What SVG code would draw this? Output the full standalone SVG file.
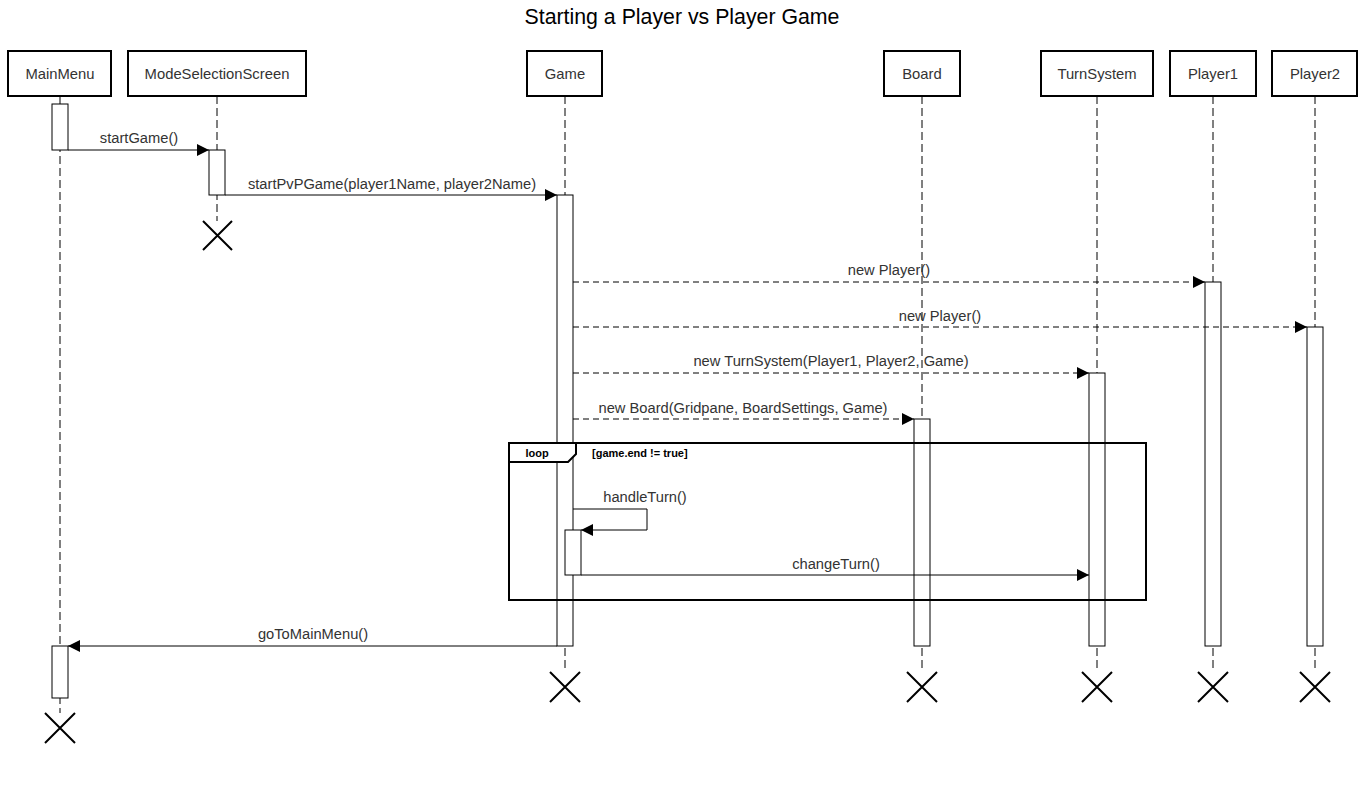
<svg xmlns="http://www.w3.org/2000/svg" width="1365" height="785" viewBox="0 0 1365 785">
<defs>
<style>
text{font-family:"Liberation Sans",Arial,sans-serif;fill:#000}
.hdr{fill:#fff;stroke:#000;stroke-width:2}
.ht{font-size:14.8px;text-anchor:middle;fill:#333}
.life{stroke:#000;stroke-width:1;stroke-dasharray:8 4;fill:none}
.act{fill:#fff;stroke:#000;stroke-width:1}
.x{stroke:#000;stroke-width:2;fill:none}
.msg{stroke:#000;stroke-width:1;fill:none}
.dash{stroke-dasharray:6 4}
.lbl{font-size:14.7px;text-anchor:middle;fill:#333}
</style>
<marker id="ah" viewBox="0 0 12 12" refX="12" refY="6" markerWidth="12" markerHeight="12" markerUnits="userSpaceOnUse" orient="auto">
<path d="M0,0 L12,6 L0,12 Z" fill="#000"/>
</marker>
</defs>
<rect width="1365" height="785" fill="#fff"/>
<text x="682" y="24" font-size="21.3" text-anchor="middle" fill="#111">Starting a Player vs Player Game</text>

<g id="MainMenu">
<rect class="hdr" x="8" y="51" width="103" height="45"/>
<text class="ht" x="60" y="79">MainMenu</text>
<line class="life" x1="60" y1="96" x2="60" y2="713"/>
<rect class="act" x="52" y="104" width="16" height="46"/>
<rect class="act" x="52" y="646" width="16" height="52"/>
<path class="x" d="M45,713 L75,743 M75,713 L45,743"/>
</g>
<g id="ModeSelectionScreen">
<rect class="hdr" x="128" y="51" width="178" height="45"/>
<text class="ht" x="217" y="79">ModeSelectionScreen</text>
<line class="life" x1="217" y1="96" x2="217" y2="221"/>
<rect class="act" x="209" y="150" width="16" height="45"/>
<path class="x" d="M203,221 L232,250 M232,221 L203,250"/>
</g>
<g id="Game">
<rect class="hdr" x="527" y="51" width="75" height="45"/>
<text class="ht" x="565" y="79">Game</text>
<line class="life" x1="565" y1="96" x2="565" y2="672"/>
<rect class="act" x="557" y="195" width="16" height="451"/>
<rect class="act" x="565" y="530" width="16" height="45"/>
<path class="x" d="M550,672 L580,702 M580,672 L550,702"/>
</g>
<g id="Board">
<rect class="hdr" x="884" y="51" width="76" height="45"/>
<text class="ht" x="922" y="79">Board</text>
<line class="life" x1="922" y1="96" x2="922" y2="672"/>
<rect class="act" x="914" y="419" width="16" height="227"/>
<path class="x" d="M907,672 L937,702 M937,672 L907,702"/>
</g>
<g id="TurnSystem">
<rect class="hdr" x="1041" y="51" width="112" height="45"/>
<text class="ht" x="1097" y="79">TurnSystem</text>
<line class="life" x1="1097" y1="96" x2="1097" y2="672"/>
<rect class="act" x="1089" y="373" width="16" height="273"/>
<path class="x" d="M1082,672 L1112,702 M1112,672 L1082,702"/>
</g>
<g id="Player1">
<rect class="hdr" x="1170" y="51" width="86" height="45"/>
<text class="ht" x="1213" y="79">Player1</text>
<line class="life" x1="1213" y1="96" x2="1213" y2="672"/>
<rect class="act" x="1205" y="282" width="16" height="364"/>
<path class="x" d="M1198,672 L1228,702 M1228,672 L1198,702"/>
</g>
<g id="Player2">
<rect class="hdr" x="1272" y="51" width="85" height="45"/>
<text class="ht" x="1315" y="79">Player2</text>
<line class="life" x1="1315" y1="96" x2="1315" y2="672"/>
<rect class="act" x="1307" y="327" width="16" height="319"/>
<path class="x" d="M1300,672 L1330,702 M1330,672 L1300,702"/>
</g>

<g id="loop">
<rect x="509" y="443" width="637" height="157" fill="none" stroke="#000" stroke-width="2"/>
<path d="M509,443 L576,443 L576,454 L568,462 L509,462 Z" fill="#fff" stroke="#000" stroke-width="2"/>
<text x="537" y="457" font-size="11" font-weight="bold" text-anchor="middle">loop</text>
<text x="592" y="457" font-size="11" font-weight="bold">[game.end != true]</text>
</g>

<g id="connectors">
<line class="msg" x1="68" y1="150" x2="209" y2="150" marker-end="url(#ah)"/>
<text class="lbl" x="139" y="143">startGame()</text>
<line class="msg" x1="225" y1="195" x2="557" y2="195" marker-end="url(#ah)"/>
<text class="lbl" x="392" y="189">startPvPGame(player1Name, player2Name)</text>
<line class="msg dash" x1="573" y1="282" x2="1205" y2="282" marker-end="url(#ah)"/>
<text class="lbl" x="889" y="275">new Player()</text>
<line class="msg dash" x1="573" y1="327" x2="1307" y2="327" marker-end="url(#ah)"/>
<text class="lbl" x="940" y="321">new Player()</text>
<line class="msg dash" x1="573" y1="373" x2="1089" y2="373" marker-end="url(#ah)"/>
<text class="lbl" x="831" y="366">new TurnSystem(Player1, Player2, Game)</text>
<line class="msg dash" x1="573" y1="419" x2="914" y2="419" marker-end="url(#ah)"/>
<text class="lbl" x="743" y="413">new Board(Gridpane, BoardSettings, Game)</text>
<polyline class="msg" points="573,509 647,509 647,530 581,530" marker-end="url(#ah)"/>
<text class="lbl" x="645" y="502">handleTurn()</text>
<line class="msg" x1="581" y1="575" x2="1089" y2="575" marker-end="url(#ah)"/>
<text class="lbl" x="836" y="569">changeTurn()</text>
<line class="msg" x1="557" y1="646" x2="68" y2="646" marker-end="url(#ah)"/>
<text class="lbl" x="313" y="639">goToMainMenu()</text>
</g>
</svg>
